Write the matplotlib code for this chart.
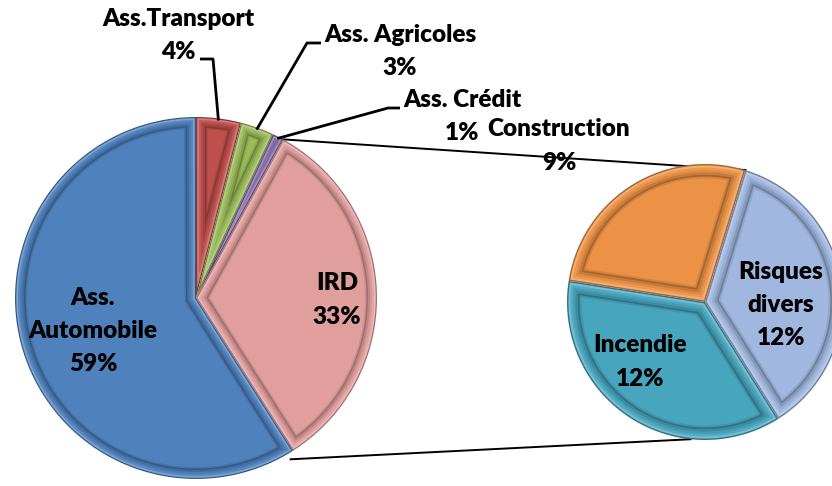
import numpy as np
import matplotlib
matplotlib.use("Agg")
import matplotlib.pyplot as plt
from matplotlib.patches import Polygon
from matplotlib import colors as mcolors

# ---------------- data ----------------
main_labels = ["Ass.Transport", "Ass. Agricoles", "Ass. Crédit", "IRD", "Ass.\nAutomobile"]
main_values = [4, 3, 1, 33, 59]
main_colors = ["#C0504D", "#9BBB59", "#8064A2", "#E09E9D", "#4F81BD"]

sub_labels = ["Construction", "Incendie", "Risques\ndivers"]
sub_values = [9, 12, 12]
sub_colors = ["#EC9246", "#48A5BE", "#A0B7DF"]

# ---------------- figure ----------------
W, H = 832, 486
fig = plt.figure(figsize=(W / 100, H / 100), dpi=100)
ax = fig.add_axes([0, 0, 1, 1])

def S(x, y):
    return (x, H - y)

FONT = dict(family=["Lato", "DejaVu Sans"], fontweight="heavy", fontsize=17.5,
            color="black", ha="center", va="center")
LINE_STEP = 33


def shade(c, f):
    rgb = np.array(mcolors.to_rgb(c))
    if f < 1:
        return tuple(rgb * f)
    return tuple(rgb + (1 - rgb) * (f - 1))


def inset_poly(c, r, t1, t2, d, n=120):
    span = t2 - t1
    R = r - d
    if R <= 0:
        return None
    da = np.degrees(np.arcsin(min(d / R, 1.0))) if d > 0 else 0.0
    a1, a2 = t1 + da, t2 - da
    if a2 <= a1:
        return None
    mid = np.radians((t1 + t2) / 2)
    if d == 0:
        vd = 0.0
    elif span < 180:
        vd = d / np.sin(np.radians(span / 2))
    else:
        vd = d
    if vd >= R * 0.97:
        return None
    vx, vy = c[0] + vd * np.cos(mid), c[1] + vd * np.sin(mid)
    ang = np.radians(np.linspace(a1, a2, n))
    xs = c[0] + R * np.cos(ang)
    ys = c[1] + R * np.sin(ang)
    return [(vx, vy)] + list(zip(xs, ys))


# bevel profile: (inset distance, shade factor)
PROFILE = [(0, 0.70), (1.2, 1.25), (3.0, 1.05), (5.0, 0.95), (7.0, 0.84),
           (9.0, 0.70), (10.5, 0.9), (12.0, 1.0)]


def bevel(wedges, colors, scale=1.0):
    for w, col in zip(wedges, colors):
        w.set_visible(False)
        for d, f in PROFILE:
            pts = inset_poly(w.center, w.r, w.theta1, w.theta2, d * scale)
            if pts is None:
                continue
            ax.add_patch(Polygon(pts, closed=True, facecolor=shade(col, f),
                                 edgecolor="none", zorder=2))


def block_text(cx, cy_screen, text):
    lines = text.split("\n")
    n = len(lines)
    for i, ln in enumerate(lines):
        y = cy_screen + (i - (n - 1) / 2) * LINE_STEP
        ax.text(cx, H - y, ln, zorder=5, **FONT)


# ---------------- main pie ----------------
main_center = S(196, 298)
main_r = 181
mw, _ = ax.pie(main_values, colors=main_colors, startangle=90, counterclock=False,
               center=main_center, radius=main_r, wedgeprops=dict(linewidth=0))
bevel(mw, main_colors, 1.0)

# ---------------- secondary pie ----------------
sub_center = S(705, 302)
sub_r = 138
sw, _ = ax.pie(sub_values, colors=sub_colors, startangle=73, counterclock=True,
               center=sub_center, radius=sub_r, wedgeprops=dict(linewidth=0))
bevel(sw, sub_colors, 1.2)

# ---------------- connector lines ----------------
ird = mw[main_labels.index("IRD")]
def on_circle(c, r, a):
    return (c[0] + r * np.cos(np.radians(a)), c[1] + r * np.sin(np.radians(a)))

p_top = on_circle(ird.center, ird.r, ird.theta2)
p_bot = on_circle(ird.center, ird.r + 6, ird.theta1 - 2)
q_top = on_circle(sub_center, sub_r, 73)
q_bot = on_circle(sub_center, sub_r, 264)
ax.plot([p_top[0], q_top[0]], [p_top[1], q_top[1]], color="black", lw=1.4, zorder=1)
ax.plot([p_bot[0], q_bot[0]], [p_bot[1], q_bot[1]], color="black", lw=1.4, zorder=1)

# ---------------- labels ----------------
main_label_pos = [(178, 36), (400, 52), (462, 117), (337, 300), (93, 331)]
for lab, v, pos in zip(main_labels, main_values, main_label_pos):
    block_text(pos[0], pos[1], f"{lab}\n{v}%")

sub_label_pos = [(559, 146), (640, 362), (781, 305)]
for lab, v, pos in zip(sub_labels, sub_values, sub_label_pos):
    block_text(pos[0], pos[1], f"{lab}\n{v}%")

# leader lines for the small slices
leaders = {
    "Ass.Transport": [S(200, 59), S(213, 59)],
    "Ass. Agricoles": [S(321, 43), S(307, 43)],
    "Ass. Crédit": [S(400, 108), S(388, 108)],
}
for lab, seg in leaders.items():
    w = mw[main_labels.index(lab)]
    tip = on_circle(w.center, w.r - 2, (w.theta1 + w.theta2) / 2)
    xs = [seg[0][0], seg[1][0], tip[0]]
    ys = [seg[0][1], seg[1][1], tip[1]]
    ax.plot(xs, ys, color="black", lw=2.0, zorder=4, solid_capstyle="butt")

ax.set_xlim(0, W)
ax.set_ylim(0, H)
ax.set_aspect("equal")
ax.axis("off")
fig.savefig("out.png", dpi=100)
